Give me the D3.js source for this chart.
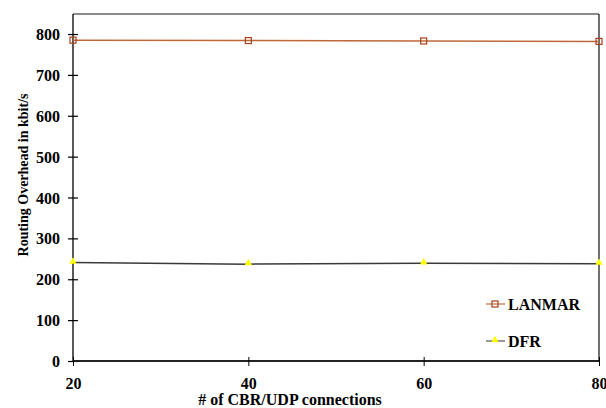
<!DOCTYPE html>
<html><head><meta charset="utf-8">
<script src="https://cdn.jsdelivr.net/npm/d3@7/dist/d3.min.js"></script>
<style>body{margin:0;background:#fff}svg{display:block}text{font-family:"Liberation Serif","Times New Roman",serif;font-weight:bold}</style>
</head><body><svg id="c" width="606" height="408"></svg>
<script>
const connections = [20, 40, 60, 80];
const lanmar = [785, 784, 783, 782];
const dfr = [241, 237, 239, 238];
const yTicks = [0, 100, 200, 300, 400, 500, 600, 700, 800];
const seriesNames = ["LANMAR", "DFR"];

const svg = d3.select("#c");
const L = 73, R = 599, T = 14, B = 361;
const x = d3.scaleLinear().domain([20, 80]).range([L, R]);
const y = d3.scaleLinear().domain([0, 849]).range([B, T]);

// frame
svg.append("line").attr("x1", L).attr("x2", R).attr("y1", T).attr("y2", T).attr("stroke", "#666").attr("stroke-width", 1.3);
svg.append("line").attr("x1", R).attr("x2", R).attr("y1", T).attr("y2", B).attr("stroke", "#111").attr("stroke-width", 1.2);

// y axis
const ya = svg.append("g").attr("transform", `translate(${L},0)`)
  .call(d3.axisLeft(y).tickValues(yTicks).tickSize(5).tickPadding(8).tickFormat(d3.format("d")));
ya.select(".domain").attr("stroke", "#000").attr("stroke-width", 1.3).attr("d", `M0,${T}V${B}`);
ya.selectAll(".tick line").attr("stroke", "#000").attr("stroke-width", 1.2).attr("x1", 5).attr("x2", -5);
ya.selectAll("text").attr("font-size", 16).attr("fill", "#000").attr("dy", "0.35em");

// x axis
const xa = svg.append("g").attr("transform", `translate(0,${B})`)
  .call(d3.axisBottom(x).tickValues(connections).tickSize(5).tickPadding(12).tickFormat(d3.format("d")));
xa.select(".domain").attr("stroke", "#222").attr("stroke-width", 2).attr("d", `M${L},0H${R}`);
xa.selectAll(".tick line").attr("stroke", "#000").attr("stroke-width", 1).attr("y1", -4).attr("y2", 5);
xa.selectAll("text").attr("font-size", 16).attr("fill", "#000");

// titles
svg.append("text").attr("x", 290).attr("y", 405).attr("text-anchor", "middle")
  .attr("font-size", 16).text("# of CBR/UDP connections");
svg.append("text").attr("transform", `translate(28,175) rotate(-90)`).attr("text-anchor", "middle")
  .attr("font-size", 14).text("Routing Overhead in kbit/s");

// lines
const line = d3.line().x((d, i) => x(connections[i])).y(d => y(d));
svg.append("path").datum(lanmar).attr("d", line).attr("fill", "none").attr("stroke", "#c0683a").attr("stroke-width", 1.5);
svg.append("path").datum(dfr).attr("d", line).attr("fill", "none").attr("stroke", "#3a3a3a").attr("stroke-width", 1.5);

// markers
svg.selectAll(".sq").data(lanmar).enter().append("rect")
  .attr("x", (d, i) => x(connections[i]) - 3).attr("y", d => y(d) - 3)
  .attr("width", 6).attr("height", 6).attr("fill", "none").attr("stroke", "#a8401a").attr("stroke-width", 1.2);
const tri = d3.symbol().type(d3.symbolTriangle).size(24);
svg.selectAll(".tri").data(dfr).enter().append("path")
  .attr("d", tri).attr("transform", (d, i) => `translate(${x(connections[i])},${y(d) - 1})`).attr("fill", "#ffff00");

// legend
const lg = svg.append("g");
const lgY = [304, 341];
lg.append("line").attr("x1", 486).attr("x2", 505).attr("y1", lgY[0]).attr("y2", lgY[0]).attr("stroke", "#c98a68").attr("stroke-width", 1.5);
lg.append("rect").attr("x", 492).attr("y", lgY[0] - 3).attr("width", 6).attr("height", 6).attr("fill", "none").attr("stroke", "#a8401a").attr("stroke-width", 1.2);
lg.append("line").attr("x1", 486).attr("x2", 505).attr("y1", lgY[1]).attr("y2", lgY[1]).attr("stroke", "#777").attr("stroke-width", 1.5);
lg.append("path").attr("d", tri).attr("transform", `translate(495,${lgY[1] - 1})`).attr("fill", "#ffff00");
seriesNames.forEach((n, i) => {
  lg.append("text").attr("x", 508).attr("y", lgY[i]).attr("dy", "0.35em").attr("font-size", 16).text(n);
});
</script></body></html>
